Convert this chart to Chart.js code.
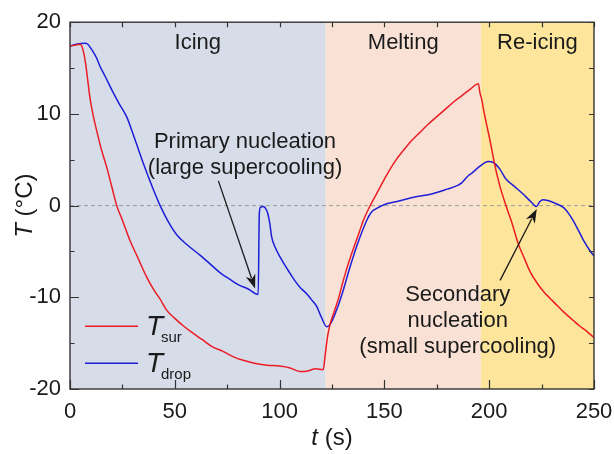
<!DOCTYPE html>
<html>
<head>
<meta charset="utf-8">
<script src="https://cdn.jsdelivr.net/npm/chart.js@4.4.1/dist/chart.umd.min.js"></script>
<style>
  html, body { margin: 0; padding: 0; background: #fff; }
  #wrap { width: 614px; height: 454px; }
</style>
</head>
<body>
<div id="wrap"><canvas id="chart"></canvas></div>
<script>
// tick labels
const xTicks = [0, 50, 100, 150, 200, 250];
const yTicks = [-20, -10, 0, 10, 20];

// T_sur (red)
const surTime = [0, 2.5, 4.8, 5.8, 6.6, 7.5, 8.5, 9.5, 11, 12.7, 15, 17.5, 20, 22.3, 25, 28.6, 32, 36.6, 40, 43,
  46.1, 50, 54, 58, 63, 68, 73, 78, 83, 88, 94, 100, 105, 110, 114, 117, 120.8, 121.8, 122.8, 124,
  126, 128, 130, 132, 134, 136, 138, 140, 143, 147, 151, 155, 159, 163, 167, 171, 175, 179, 183, 187,
  191, 194.8, 195.6, 196.5, 197.2, 198.8, 200.4, 202.5, 205, 208.3, 211, 213.9, 216.5, 219.5, 223, 226, 229, 232, 236, 240,
  243, 246, 250];
const surTemp = [17.4, 17.5, 17.6, 17.3, 16.6, 15.4, 13.6, 11.8, 9.9, 8.2, 6.1, 4.2, 2.0, 0, -1.6, -3.8, -5.5, -7.8, -9.2, -10.2,
  -11.4, -12.3, -13.1, -13.8, -14.6, -15.4, -15.9, -16.5, -16.9, -17.2, -17.4, -17.5, -17.7, -18.1, -18.0, -17.8, -17.9, -16.2, -14.4, -13.0,
  -11.6, -10.2, -8.5, -6.9, -5.5, -4.2, -2.9, -1.6, -0.1, 1.6, 3.3, 4.8, 6.0, 7.1, 8.0, 8.9, 9.7, 10.5, 11.3, 12.0,
  12.7, 13.3, 12.3, 11.5, 10.6, 8.8, 7.1, 4.6, 2.2, -0.2, -2.0, -4.2, -5.6, -7.2, -8.5, -9.4, -10.1, -10.8, -11.7, -12.5,
  -13.1, -13.6, -14.4];

// T_drop (blue)
const dropTime = [0, 3, 7.2, 8.5, 9.5, 11, 12.7, 14.3, 17, 20, 23.5, 27, 31, 35, 39, 43, 47, 51, 56, 62,
  68, 72, 76, 80, 85, 89.8, 90.3, 90.8, 92.2, 93.3, 94.3, 95.3, 96.2, 98, 100.2, 102.5, 105, 107, 109.7, 111.5,
  112.9, 115, 117.7, 120, 122.5, 124, 127, 130, 133.6, 137, 141.6, 143.5, 145.5, 148, 151, 157, 164, 173, 180, 185,
  187, 189.3, 192, 195.6, 199.6, 202, 205, 208, 212, 216, 220, 222.6, 224, 225.5, 228, 232, 235.4, 238, 240, 243,
  245, 248, 250];
const dropTemp = [17.4, 17.6, 17.7, 17.6, 17.3, 16.8, 16.1, 15.2, 14.0, 12.6, 11.1, 9.7, 7.2, 4.6, 2.2, 0, -1.8, -3.2, -4.3, -5.4,
  -6.6, -7.4, -8.0, -8.6, -9.1, -9.7, -1.0, -0.2, -0.1, -0.3, -0.8, -1.9, -3.4, -4.6, -5.6, -6.5, -7.4, -8.1, -8.9, -9.3,
  -9.6, -10.2, -11.0, -12.2, -13.2, -13.0, -11.5, -9.5, -6.7, -4.3, -1.6, -0.8, -0.4, -0.1, 0.2, 0.5, 0.9, 1.3, 1.8, 2.2,
  2.5, 3.1, 3.6, 4.3, 4.8, 4.7, 4.0, 2.9, 2.1, 1.3, 0.4, -0.1, 0.4, 0.65, 0.55, 0.2, -0.2, -0.9, -1.6, -2.9,
  -3.8, -4.9, -5.5];

// shaded phases
const phaseNames = ['Icing', 'Melting', 'Re-icing'];
const phaseStart = [0, 122, 196];
const phaseEnd = [122, 196, 250];
const phaseColors = ['#d6dce8', '#f9e2d5', '#fde59b'];

// annotations (anchor in data units: centre t, first baseline T)
const noteLines = [['Primary nucleation', '(large supercooling)'], ['Secondary', 'nucleation', '(small supercooling)']];
const noteT = [83.5, 185];
const noteTemp = [6.3, -10.4];
// arrows: from -> tip, data units
const arrowFrom = [[70.8, 2.7], [205.2, -8.15]];
const arrowTip = [[88.3, -9.05], [222.7, -0.36]];

const FONT = "'Liberation Sans', Arial, Helvetica, sans-serif";
const INK = '#1a1a1a';
const RED = '#ec1c24';
const BLUE = '#1e1ed8';

function arrow(ctx, x0, y0, x1, y1) {
    const ang = Math.atan2(y1 - y0, x1 - x0);
    const len = 14, hw = 5;
    const bx = x1 - len * Math.cos(ang), by = y1 - len * Math.sin(ang);
    ctx.beginPath();
    ctx.moveTo(x0, y0);
    ctx.lineTo(bx + 3 * Math.cos(ang), by + 3 * Math.sin(ang));
    ctx.stroke();
    ctx.beginPath();
    ctx.moveTo(x1, y1);
    ctx.lineTo(bx + hw * Math.sin(ang), by - hw * Math.cos(ang));
    ctx.lineTo(bx + 4 * Math.cos(ang), by + 4 * Math.sin(ang));
    ctx.lineTo(bx - hw * Math.sin(ang), by + hw * Math.cos(ang));
    ctx.closePath();
    ctx.fill();
}

const decorPlugin = {
    id: 'decor',
    beforeDatasetsDraw(chart) {
        const { ctx, chartArea: a, scales: { x, y } } = chart;
        ctx.save();
        phaseStart.forEach((s, i) => {
            const x0 = x.getPixelForValue(s), x1 = x.getPixelForValue(phaseEnd[i]);
            ctx.fillStyle = phaseColors[i];
            ctx.fillRect(x0, a.top, x1 - x0, a.bottom - a.top);
        });
        // dashed zero line
        const y0 = y.getPixelForValue(0);
        ctx.strokeStyle = '#9c9c9c';
        ctx.lineWidth = 1;
        ctx.setLineDash([4, 3]);
        ctx.beginPath();
        ctx.moveTo(a.left, y0);
        ctx.lineTo(a.right, y0);
        ctx.stroke();
        ctx.restore();
    },
    afterDatasetsDraw(chart) {
        const { ctx, chartArea: a, scales: { x, y } } = chart;
        ctx.save();

        // frame + inward ticks
        ctx.strokeStyle = '#333';
        ctx.lineWidth = 1.4;
        ctx.strokeRect(a.left, a.top, a.right - a.left, a.bottom - a.top);
        ctx.lineWidth = 1.2;
        ctx.beginPath();
        for (let v = x.min; v <= x.max; v += 25) {
            const px = Math.round(x.getPixelForValue(v)) + 0.5;
            const len = v % 50 === 0 ? 9 : 4.5;
            ctx.moveTo(px, a.bottom); ctx.lineTo(px, a.bottom - len);
            ctx.moveTo(px, a.top); ctx.lineTo(px, a.top + 5);
        }
        for (let v = y.min; v <= y.max; v += 5) {
            const py = Math.round(y.getPixelForValue(v)) + 0.5;
            const len = v % 10 === 0 ? 9 : 4.5;
            ctx.moveTo(a.left, py); ctx.lineTo(a.left + len, py);
            ctx.moveTo(a.right, py); ctx.lineTo(a.right - 5, py);
        }
        ctx.stroke();

        // phase labels
        ctx.fillStyle = INK;
        ctx.font = `22px ${FONT}`;
        ctx.textAlign = 'center';
        ctx.textBaseline = 'alphabetic';
        phaseNames.forEach((n, i) => {
            const cx = (x.getPixelForValue(phaseStart[i]) + x.getPixelForValue(phaseEnd[i])) / 2;
            ctx.fillText(n, cx, a.top + 27);
        });

        // annotations
        noteLines.forEach((lines, i) => {
            const cx = x.getPixelForValue(noteT[i]);
            const by = y.getPixelForValue(noteTemp[i]);
            lines.forEach((l, k) => ctx.fillText(l, cx, by + k * 26));
        });
        ctx.strokeStyle = INK;
        ctx.lineWidth = 1.3;
        arrowFrom.forEach((f, i) => {
            arrow(ctx, x.getPixelForValue(f[0]), y.getPixelForValue(f[1]),
                x.getPixelForValue(arrowTip[i][0]), y.getPixelForValue(arrowTip[i][1]));
        });

        // legend
        const items = [[RED, 'sur'], [BLUE, 'drop']];
        items.forEach(([c, sub], i) => {
            const ly = a.top + 304 + i * 37;
            ctx.strokeStyle = c;
            ctx.lineWidth = 1.6;
            ctx.beginPath();
            ctx.moveTo(a.left + 15, ly);
            ctx.lineTo(a.left + 68, ly);
            ctx.stroke();
            ctx.fillStyle = INK;
            ctx.textAlign = 'left';
            ctx.font = `italic 28px ${FONT}`;
            ctx.fillText('T', a.left + 76, ly + 9);
            ctx.font = `15px ${FONT}`;
            ctx.fillText(sub, a.left + 91, ly + 16);
        });

        // axis titles
        ctx.fillStyle = INK;
        ctx.font = `italic 24px ${FONT}`;
        const wT = ctx.measureText('T').width;
        ctx.font = `24px ${FONT}`;
        const wRest = ctx.measureText(' (°C)').width;
        ctx.save();
        ctx.translate(32, (a.top + a.bottom) / 2);
        ctx.rotate(-Math.PI / 2);
        ctx.textAlign = 'left';
        let sx = -(wT + wRest) / 2;
        ctx.font = `italic 24px ${FONT}`;
        ctx.fillText('T', sx, 0);
        ctx.font = `24px ${FONT}`;
        ctx.fillText(' (°C)', sx + wT, 0);
        ctx.restore();

        ctx.font = `italic 24px ${FONT}`;
        const wt = ctx.measureText('t').width;
        ctx.font = `24px ${FONT}`;
        const ws = ctx.measureText(' (s)').width;
        sx = (a.left + a.right) / 2 - (wt + ws) / 2;
        ctx.textAlign = 'left';
        ctx.font = `italic 24px ${FONT}`;
        ctx.fillText('t', sx, 445);
        ctx.font = `24px ${FONT}`;
        ctx.fillText(' (s)', sx + wt, 445);

        ctx.restore();
    }
};

const ctx = document.getElementById('chart').getContext('2d');
new Chart(ctx, {
    type: 'line',
    data: {
        datasets: [
            {
                label: 'T_sur',
                data: surTime.map((t, i) => ({ x: t, y: surTemp[i] })),
                borderColor: RED,
                borderWidth: 1.5,
                pointRadius: 0,
                cubicInterpolationMode: 'monotone',
                fill: false
            },
            {
                label: 'T_drop',
                data: dropTime.map((t, i) => ({ x: t, y: dropTemp[i] })),
                borderColor: BLUE,
                borderWidth: 1.5,
                pointRadius: 0,
                cubicInterpolationMode: 'monotone',
                fill: false
            }
        ]
    },
    options: {
        responsive: true,
        maintainAspectRatio: false,
        devicePixelRatio: 1,
        animation: false,
        layout: { padding: { left: 0, right: 20, top: 21, bottom: 0 } },
        plugins: { legend: { display: false }, tooltip: { enabled: false } },
        scales: {
            x: {
                type: 'linear',
                min: 0,
                max: 250,
                afterBuildTicks: s => { s.ticks = xTicks.map(v => ({ value: v })); },
                afterFit: s => { s.height = 65; s.paddingLeft = 0; s.paddingRight = 0; },
                grid: { display: false, drawTicks: false },
                border: { display: false },
                ticks: { padding: 10, color: INK, font: { family: FONT, size: 22 }, maxRotation: 0 }
            },
            y: {
                min: -20,
                max: 20,
                afterBuildTicks: s => { s.ticks = yTicks.map(v => ({ value: v })); },
                afterFit: s => { s.width = 70; },
                grid: { display: false, drawTicks: false },
                border: { display: false },
                ticks: { padding: 9, color: INK, font: { family: FONT, size: 22 } }
            }
        }
    },
    plugins: [decorPlugin]
});
</script>
</body>
</html>
